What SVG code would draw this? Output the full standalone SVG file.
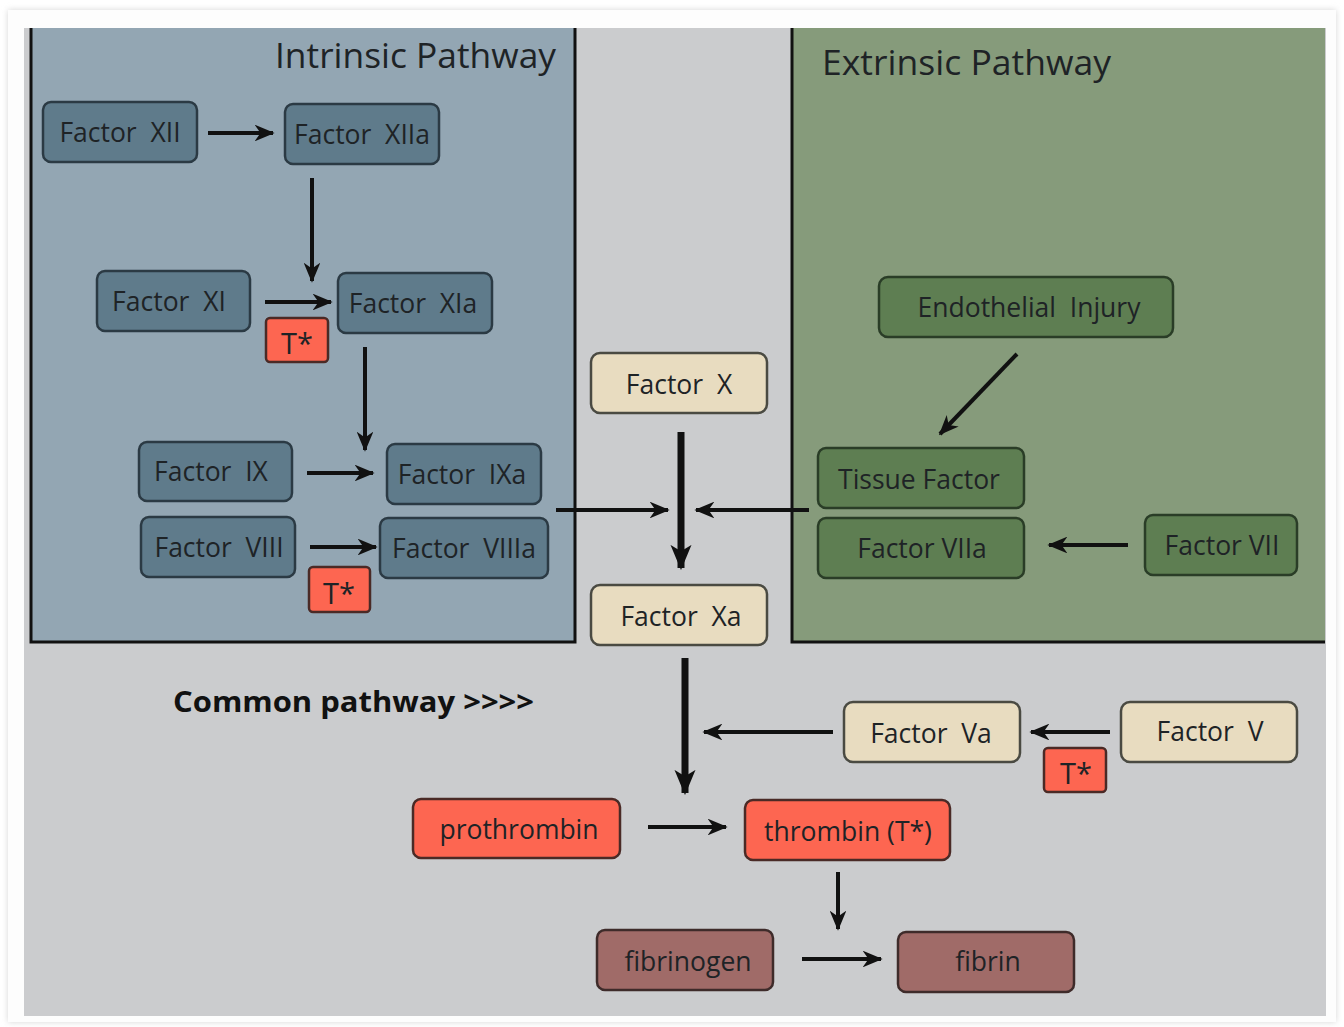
<svg xmlns="http://www.w3.org/2000/svg" width="1344" height="1027" viewBox="0 0 1344 1027">
<defs>
<marker id="ah" viewBox="0 0 12 10" refX="11" refY="5" markerWidth="5" markerHeight="4.2" orient="auto" markerUnits="strokeWidth">
<path d="M0,0 L12,5 L0,10 L3.5,5 z" fill="#111"/>
</marker>
<marker id="ahb" viewBox="0 0 12 10" refX="11" refY="5" markerWidth="3.6" markerHeight="3.2" orient="auto" markerUnits="strokeWidth">
<path d="M0,0 L12,5 L0,10 L3,5 z" fill="#111"/>
</marker>
<filter id="sh" x="-5%" y="-5%" width="110%" height="110%">
<feGaussianBlur stdDeviation="3"/>
</filter>
</defs>
<style>
.t{font-family:"Open Sans","Noto Sans","DejaVu Sans",sans-serif;font-size:26.5px;fill:#1e2326;text-anchor:middle;dominant-baseline:central;white-space:pre}
.h{font-family:"Open Sans","Noto Sans","DejaVu Sans",sans-serif;font-size:35px;fill:#1e2326}
.bi{fill:#5f7b8b;stroke:#2b3a44;stroke-width:2.5}
.be{fill:#5e7e52;stroke:#2a3d27;stroke-width:2.5}
.bc{fill:#e8dcc0;stroke:#4a4a42;stroke-width:2.5}
.br{fill:#fd6651;stroke:#4a2a26;stroke-width:2.5}
.bf{fill:#a06b68;stroke:#3e2b2a;stroke-width:2.5}
.a{stroke:#111;stroke-width:4;fill:none;marker-end:url(#ah)}
.ab{stroke:#111;stroke-width:7;fill:none;marker-end:url(#ahb)}
.l{stroke:#111;stroke-width:3;fill:none}
.ts{font-size:29px}
</style>
<rect width="1344" height="1027" fill="#ffffff"/>
<rect x="8" y="10" width="1328" height="1012" fill="#d6d6d6" filter="url(#sh)"/>
<rect x="8" y="10" width="1328" height="1012" fill="#fdfdfd"/>
<rect x="24" y="28" width="1302" height="988" fill="#cbccce"/>
<g id="intrinsic-panel">
<rect x="30" y="28" width="545" height="614" fill="#93a6b3"/>
<path class="l" d="M31,28 V642 H575 V28"/>
<text class="h" x="275" y="68" textLength="281" lengthAdjust="spacingAndGlyphs">Intrinsic Pathway</text>
</g>
<g id="extrinsic-panel">
<rect x="792" y="28" width="533" height="614" fill="#869b7b"/>
<path class="l" d="M792,28 V642 H1325"/>
<text class="h" x="822" y="75" textLength="289" lengthAdjust="spacingAndGlyphs">Extrinsic Pathway</text>
</g>
<g id="n-xii"><rect class="bi" x="43" y="102" width="154" height="60" rx="8"/><text class="t" x="120" y="132">Factor  XII</text></g>
<g id="n-xiia"><rect class="bi" x="285" y="104" width="154" height="60" rx="8"/><text class="t" x="362" y="134">Factor  XIIa</text></g>
<g id="n-xi"><rect class="bi" x="97" y="271" width="153" height="60" rx="8"/><text class="t" x="169" y="301">Factor  XI</text></g>
<g id="n-xia"><rect class="bi" x="338" y="273" width="154" height="60" rx="8"/><text class="t" x="413" y="303">Factor  XIa</text></g>
<g id="n-t1"><rect class="br" x="266" y="318" width="62" height="44" rx="4"/><text class="t ts" x="297" y="342">T*</text></g>
<g id="n-ix"><rect class="bi" x="139" y="442" width="153" height="59" rx="8"/><text class="t" x="211" y="471">Factor  IX</text></g>
<g id="n-ixa"><rect class="bi" x="387" y="444" width="154" height="60" rx="8"/><text class="t" x="462" y="474">Factor  IXa</text></g>
<g id="n-viii"><rect class="bi" x="141" y="517" width="154" height="60" rx="8"/><text class="t" x="219" y="547">Factor  VIII</text></g>
<g id="n-viiia"><rect class="bi" x="380" y="518" width="168" height="60" rx="8"/><text class="t" x="464" y="548">Factor  VIIIa</text></g>
<g id="n-t2"><rect class="br" x="309" y="567" width="61" height="45" rx="4"/><text class="t ts" x="339" y="592">T*</text></g>
<g id="n-x"><rect class="bc" x="591" y="353" width="176" height="60" rx="9"/><text class="t" x="679" y="384">Factor  X</text></g>
<g id="n-xa"><rect class="bc" x="591" y="585" width="176" height="60" rx="9"/><text class="t" x="681" y="616">Factor  Xa</text></g>
<g id="n-endo"><rect class="be" x="879" y="277" width="294" height="60" rx="9"/><text class="t" x="1029" y="307">Endothelial  Injury</text></g>
<g id="n-tf"><rect class="be" x="818" y="448" width="206" height="60" rx="8"/><text class="t" x="919" y="479">Tissue Factor</text></g>
<g id="n-viia"><rect class="be" x="818" y="518" width="206" height="60" rx="8"/><text class="t" x="922" y="548">Factor VIIa</text></g>
<g id="n-vii"><rect class="be" x="1145" y="515" width="152" height="60" rx="8"/><text class="t" x="1222" y="545">Factor VII</text></g>
<g id="common-label"><text x="173" y="712" style="font-family:'Open Sans','Noto Sans',sans-serif;font-size:28px;font-weight:bold;fill:#111" textLength="361" lengthAdjust="spacingAndGlyphs">Common pathway &gt;&gt;&gt;&gt;</text></g>
<g id="n-va"><rect class="bc" x="844" y="702" width="176" height="60" rx="9"/><text class="t" x="931" y="733">Factor  Va</text></g>
<g id="n-v"><rect class="bc" x="1121" y="702" width="176" height="60" rx="9"/><text class="t" x="1210" y="731">Factor  V</text></g>
<g id="n-t3"><rect class="br" x="1044" y="748" width="62" height="44" rx="4"/><text class="t ts" x="1076" y="772">T*</text></g>
<g id="n-pro"><rect class="br" x="413" y="799" width="207" height="59" rx="8"/><text class="t" x="519" y="829">prothrombin</text></g>
<g id="n-thr"><rect class="br" x="745" y="800" width="205" height="60" rx="8"/><text class="t" x="848" y="831">thrombin (T*)</text></g>
<g id="n-fbg"><rect class="bf" x="597" y="930" width="176" height="60" rx="8"/><text class="t" x="688" y="961">fibrinogen</text></g>
<g id="n-fib"><rect class="bf" x="898" y="932" width="176" height="60" rx="8"/><text class="t" x="988" y="961">fibrin</text></g>
<g id="connectors">
<line class="a" x1="208" y1="133" x2="273" y2="133"/>
<line class="a" x1="312" y1="178" x2="312" y2="281"/>
<line class="a" x1="265" y1="302" x2="331" y2="302"/>
<line class="a" x1="365" y1="347" x2="365" y2="450"/>
<line class="a" x1="307" y1="473" x2="373" y2="473"/>
<line class="a" x1="310" y1="547" x2="376" y2="547"/>
<line class="a" x1="556" y1="510" x2="668" y2="510"/>
<line class="a" x1="809" y1="510" x2="696" y2="510"/>
<line class="ab" x1="681" y1="432" x2="681" y2="568"/>
<line class="a" x1="1017" y1="354" x2="940" y2="434"/>
<line class="a" x1="1128" y1="545" x2="1049" y2="545"/>
<line class="ab" x1="685" y1="658" x2="685" y2="793"/>
<line class="a" x1="833" y1="732" x2="704" y2="732"/>
<line class="a" x1="1110" y1="732" x2="1031" y2="732"/>
<line class="a" x1="648" y1="827" x2="726" y2="827"/>
<line class="a" x1="838" y1="872" x2="838" y2="929"/>
<line class="a" x1="802" y1="959" x2="881" y2="959"/>
</g>
</svg>
